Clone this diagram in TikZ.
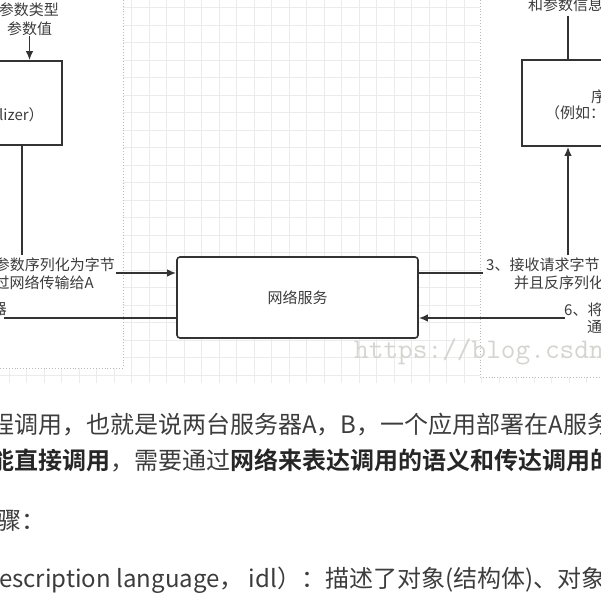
\documentclass[tikz,border=0pt]{standalone}
\usepackage{fontspec}
\setmainfont{Noto Sans CJK SC}[BoldFont={Noto Sans CJK SC Bold}]
\usetikzlibrary{arrows.meta,positioning}

\definecolor{linegray}{HTML}{333333}
\definecolor{gridgray}{HTML}{EBEBEB}
\definecolor{labelgray}{HTML}{3C3C3C}
\definecolor{wmgray}{HTML}{D4D4D0}

\tikzset{
  box/.style={draw=linegray, line width=1.6pt, fill=white, inner sep=0pt},
  lbl/.style={text=labelgray, font=\fontsize{15}{19}\selectfont, inner sep=0pt},
  conn/.style={draw=linegray, line width=1.6pt},
  arr/.style={conn, -{Latex[length=9pt,width=7.5pt]}},
  panel/.style={fill=white, draw=gray!55, dotted, line width=0.9pt},
  para/.style={text=labelgray, font=\fontsize{24}{28}\selectfont, inner sep=0pt, anchor=base west},
}

\begin{document}
\begin{tikzpicture}[x=1pt,y=-1pt]
\useasboundingbox (0,0) rectangle (600,601);

% grid background
\foreach \k in {0,...,34}
  \draw[gridgray, line width=0.7pt] (9.2+17.5*\k,0) -- (9.2+17.5*\k,383);
\foreach \k in {0,...,21}
  \draw[gridgray, line width=0.7pt] (0,7.5+17.5*\k) -- (600,7.5+17.5*\k);

% the two machines
\draw[panel] (-3,-3) rectangle (123,368);
\draw[panel] (480,-3) rectangle (605,377);

% boxes
\node[box, minimum width=82pt, minimum height=84pt] (serializer) at (21,103) {};
\node[box, rounded corners=3pt, minimum width=241pt, minimum height=81pt] (network) at (297.5,297.5) {};
\node[box, minimum width=118pt, minimum height=86pt] (deserializer) at (581,103) {};

\node[lbl] at (network.center) {网络服务};
\node[lbl, anchor=west] (serlbl) at (-1,115) {lizer）};
\node[lbl, anchor=west] (deslbl1) at (591,97) {序};
\node[lbl, anchor=west] (deslbl2) at (545,113) {（例如：};

% labels
\node[lbl, anchor=east] (typelbl) at (59,10) {参数类型};
\node[lbl] (valuelbl) at (29.5,29) {参数值};
\node[lbl, anchor=west] (infolbl) at (528,5) {和参数信息};

\node[lbl, anchor=east] (sendlbl1) at (115,265) {参数序列化为字节};
\node[lbl, anchor=east] (sendlbl2) at (94,283) {过网络传输给A};
\node[lbl, anchor=east] (sendlbl3) at (7,309) {器};

\node[lbl, anchor=west] (recvlbl1) at (486,265) {3、接收请求字节};
\node[lbl, anchor=west] (recvlbl2) at (514,283) {并且反序列化};
\node[lbl, anchor=west] (backlbl1) at (564,310) {6、将};
\node[lbl, anchor=west] (backlbl2) at (587,327) {通};

% connectors
\coordinate (c1) at (22,255);
\coordinate (s1) at (116,273);
\coordinate (r1) at (4,318);
\coordinate (s2) at (483,273);
\coordinate (r2) at (565,318);
\coordinate (t2) at (568,16);
\coordinate (b2) at (568,255);

\draw[arr] (valuelbl.south) -- (valuelbl.south |- serializer.north);
\draw[conn] (serializer.south -| c1) -- (c1);
\draw[arr] (s1) -- (s1 -| network.west);
\draw[conn] (r1) -- (r1 -| network.west);
\draw[conn] (s2 -| network.east) -- (s2);
\draw[arr] (r2) -- (r2 -| network.east);
\draw[conn] (t2) -- (t2 |- deserializer.north);
\draw[arr] (b2) -- (b2 |- deserializer.south);

% watermark
\node[text=wmgray, font=\ttfamily\fontsize{28.5}{32}\selectfont, inner sep=0pt, anchor=west] (wmark) at (354,352) {https://blog.csdn};

% article text
\node[para] (line1) at (-10,433) {程调用，也就是说两台服务器A，B，一个应用部署在A服务};
\node[para] (line2) at (-10,469) {{\bfseries\color{black!85}能直接调用}，需要通过{\bfseries\color{black!85}网络来表达调用的语义和传达调用的}};
\node[para] (line3) at (-3,529) {骤：};
\node[para] (line4) at (-1,587) {escription language， idl）：描述了对象(结构体)、对象};
\end{tikzpicture}
\end{document}
